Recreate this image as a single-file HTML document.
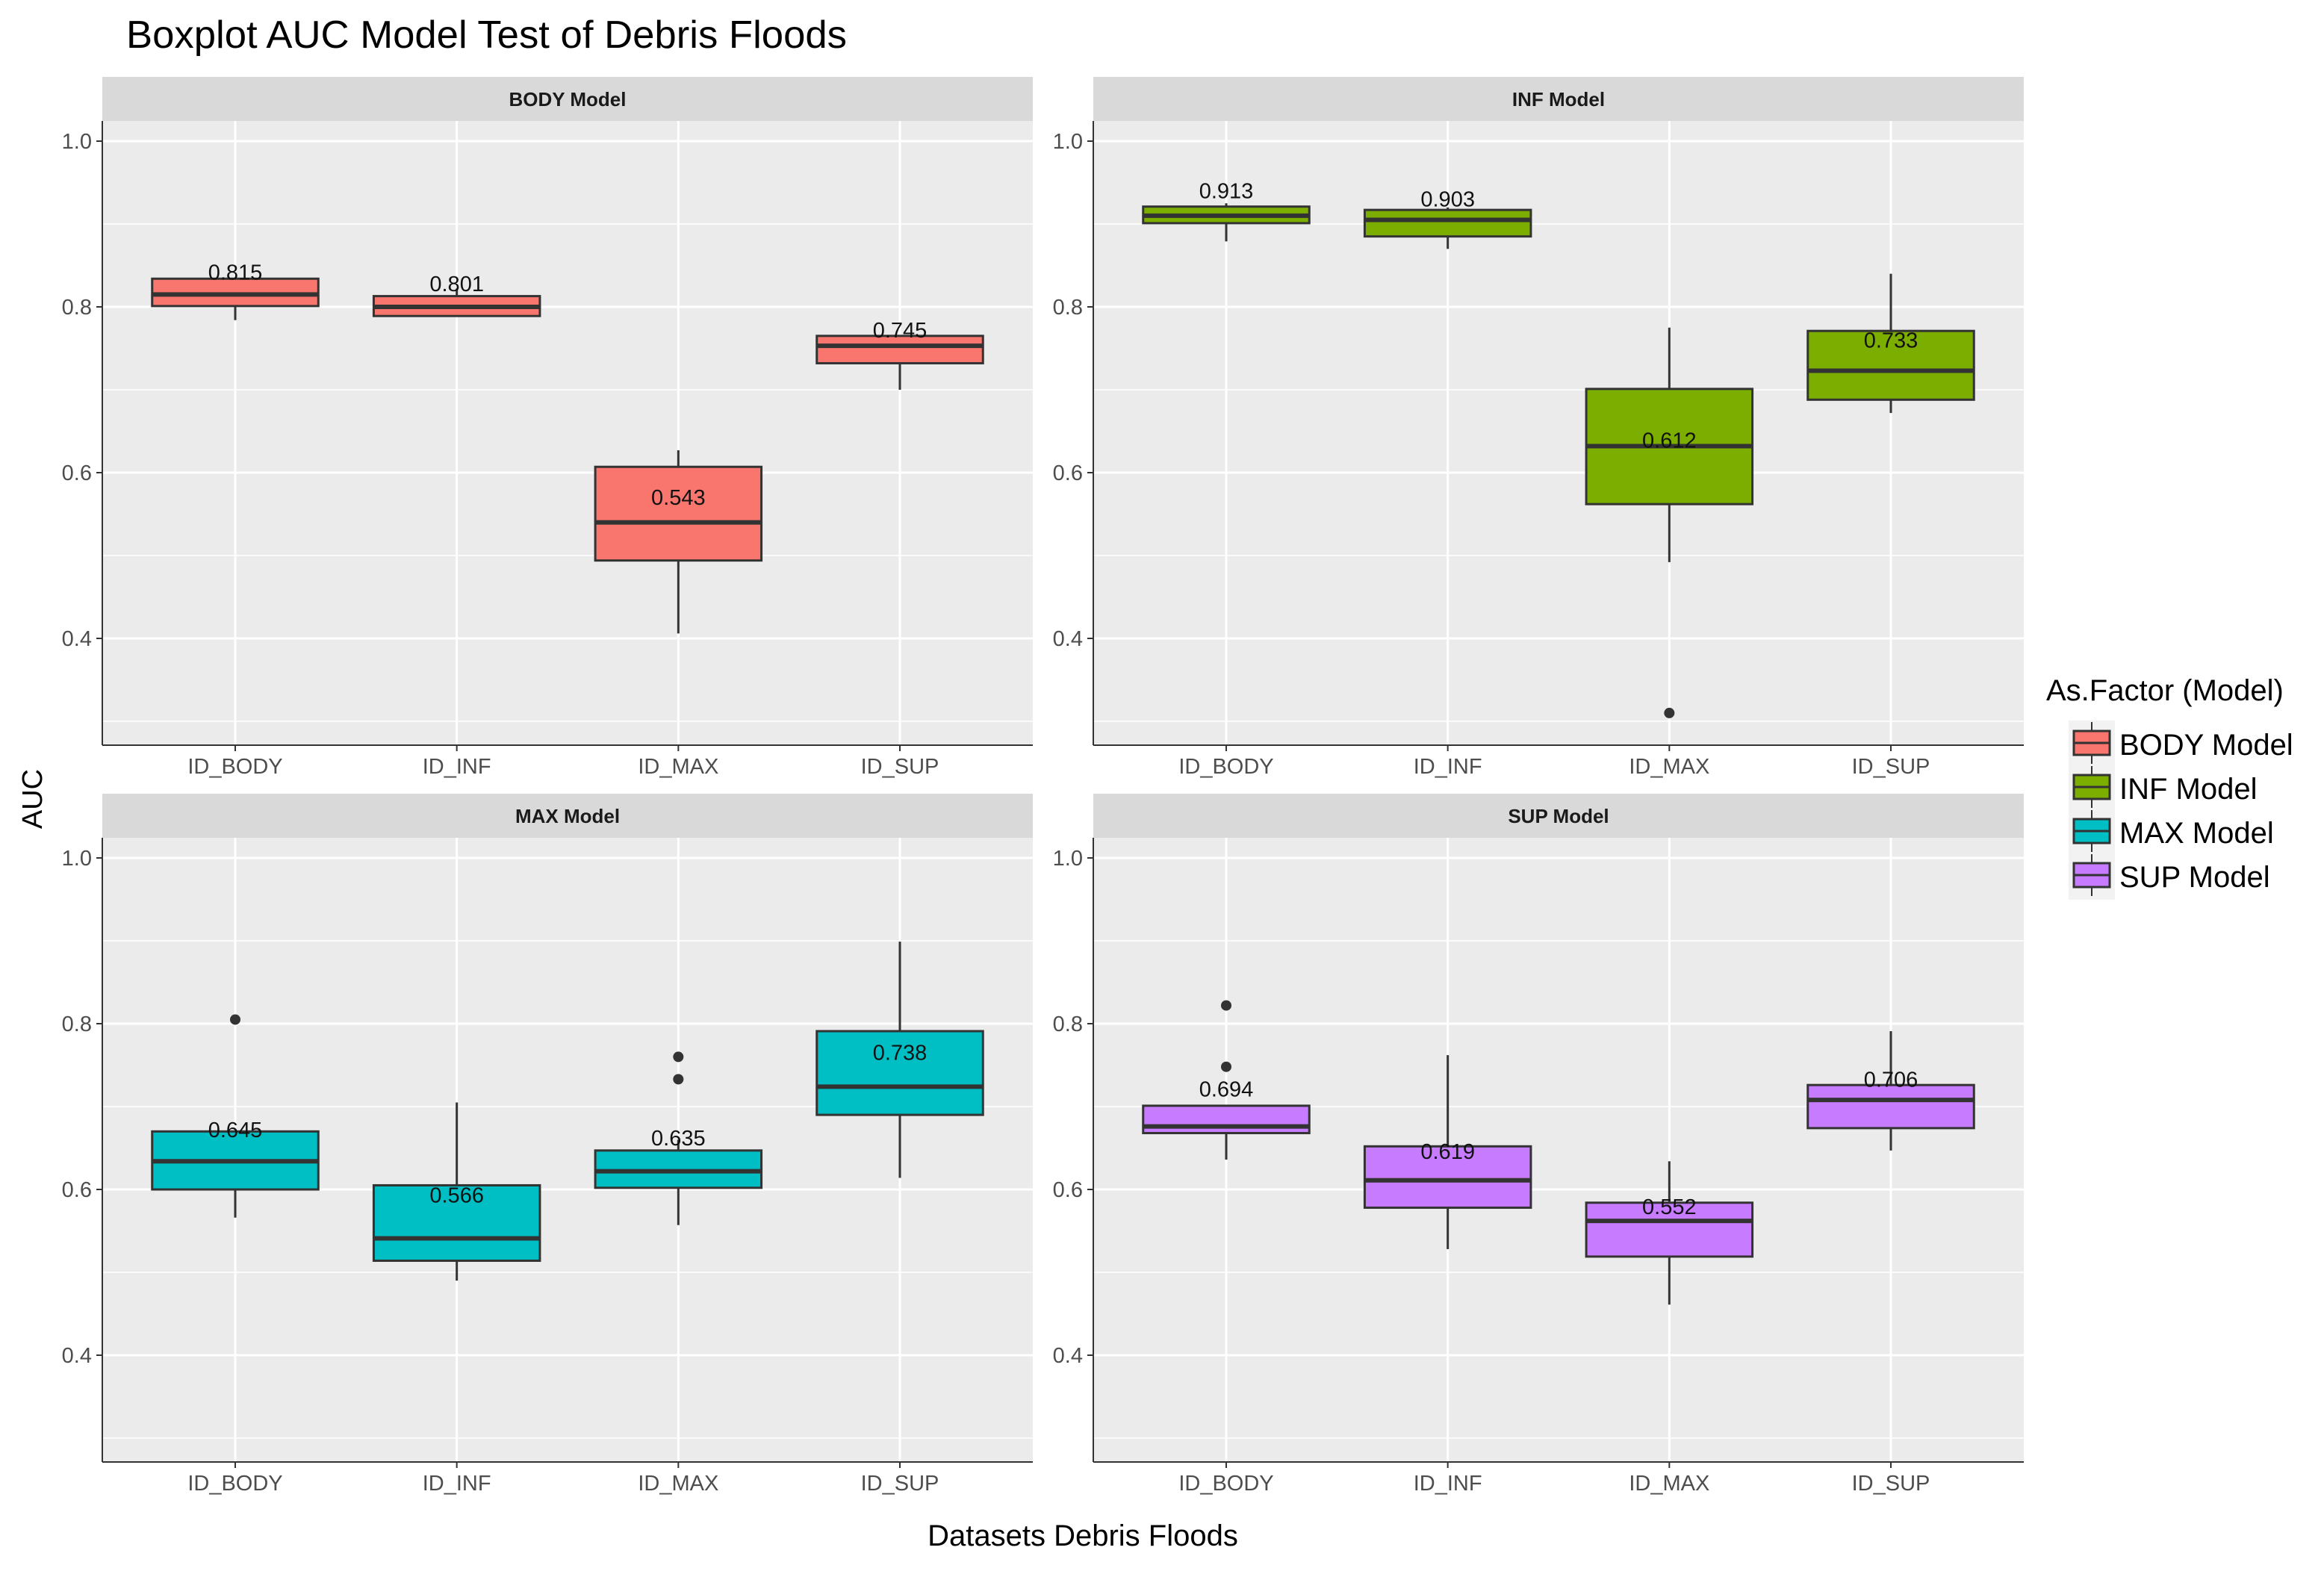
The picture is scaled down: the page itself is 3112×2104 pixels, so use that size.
<!DOCTYPE html>
<html><head><meta charset="utf-8"><style>
html,body{margin:0;padding:0;background:#fff;}
svg{display:block;font-family:"Liberation Sans",sans-serif;}
</style></head><body>
<svg id="chart" width="3112" height="2104" viewBox="0 0 3112 2104" xmlns="http://www.w3.org/2000/svg">
<text x="169" y="64" font-size="52" textLength="965" lengthAdjust="spacingAndGlyphs" fill="#000">Boxplot AUC Model Test of Debris Floods</text>
<text x="56" y="1070" font-size="38" fill="#000" text-anchor="middle" transform="rotate(-90 56 1070)">AUC</text>
<text x="1450" y="2070" font-size="40" fill="#000" text-anchor="middle">Datasets Debris Floods</text>
<g id="panels"></g>
<g id="legend"></g>
</svg>
<script>
const categories = ["ID_BODY","ID_INF","ID_MAX","ID_SUP"];
const models = ["BODY Model","INF Model","MAX Model","SUP Model"];
const colors = ["#F8766D","#7CAE00","#00BFC4","#C77CFF"];
const yTicks = [0.4,0.6,0.8,1.0];
const yMinor = [0.3,0.5,0.7,0.9];
// per model: [whiskerLow, q1, median, q3, whiskerHigh] per category
const bodyStats = [[0.784,0.801,0.815,0.834,0.834],[0.789,0.789,0.800,0.813,0.822],[0.406,0.494,0.540,0.607,0.627],[0.700,0.732,0.753,0.765,0.765]];
const infStats = [[0.879,0.901,0.910,0.921,0.925],[0.870,0.885,0.905,0.917,0.920],[0.492,0.562,0.632,0.701,0.775],[0.672,0.688,0.723,0.771,0.840]];
const maxStats = [[0.566,0.600,0.634,0.670,0.670],[0.490,0.514,0.541,0.605,0.705],[0.557,0.602,0.622,0.647,0.660],[0.614,0.690,0.724,0.791,0.899]];
const supStats = [[0.636,0.668,0.676,0.701,0.701],[0.528,0.578,0.611,0.652,0.762],[0.461,0.519,0.562,0.584,0.634],[0.647,0.674,0.708,0.726,0.791]];
const bodyOutliers = [[],[],[],[]];
const infOutliers = [[],[],[0.310],[]];
const maxOutliers = [[0.805],[],[0.760,0.733],[]];
const supOutliers = [[0.822,0.748],[],[],[]];
const bodyLabels = [0.815,0.801,0.543,0.745];
const infLabels = [0.913,0.903,0.612,0.733];
const maxLabels = [0.645,0.566,0.635,0.738];
const supLabels = [0.694,0.619,0.552,0.706];
const allStats=[bodyStats,infStats,maxStats,supStats];
const allOut=[bodyOutliers,infOutliers,maxOutliers,supOutliers];
const allLab=[bodyLabels,infLabels,maxLabels,supLabels];

const NS="http://www.w3.org/2000/svg";
function mk(tag,attrs,parent){const e=document.createElementNS(NS,tag);for(const k in attrs)e.setAttribute(k,attrs[k]);parent.appendChild(e);return e;}
const root=document.getElementById('panels');
const colX=[137,1464], rowY=[103,1063], PW=1246, SH=59, PH=836;
const STEP=PW/4.2;
models.forEach((m,mi)=>{
  const px=colX[mi%2], sy=rowY[Math.floor(mi/2)], py=sy+SH;
  const yS=v=>py+27+(1-v)*1110;
  const xS=i=>px+STEP*(0.6+i);
  const g=mk('g',{},root);
  
  
  const strip=mk('rect',{x:px,y:sy,width:PW,height:SH,fill:'#D9D9D9'},g);
  
  
  const st=mk('text',{x:px+PW/2,y:sy+39,'font-size':26,'font-weight':'bold','text-anchor':'middle',fill:'#1a1a1a'},g);
  st.textContent=m;
  
  
  const bg=mk('rect',{x:px,y:py,width:PW,height:PH,fill:'#EBEBEB'},g);
  
  
  yMinor.forEach(v=>{mk('line',{x1:px,x2:px+PW,y1:yS(v),y2:yS(v),stroke:'#fff','stroke-width':1.5},g);});
  yTicks.forEach(v=>{
    mk('line',{x1:px,x2:px+PW,y1:yS(v),y2:yS(v),stroke:'#fff','stroke-width':3},g);
    mk('line',{x1:px-8,x2:px,y1:yS(v),y2:yS(v),stroke:'#333','stroke-width':2},g);
    const t=mk('text',{x:px-14,y:yS(v)+10,'font-size':29,'text-anchor':'end',fill:'#4d4d4d'},g);
    t.textContent=v.toFixed(1);
    
    
  });
  categories.forEach((c,i)=>{
    mk('line',{x1:xS(i),x2:xS(i),y1:py,y2:py+PH,stroke:'#fff','stroke-width':3},g);
    mk('line',{x1:xS(i),x2:xS(i),y1:py+PH,y2:py+PH+8,stroke:'#333','stroke-width':2},g);
    const t=mk('text',{x:xS(i),y:py+PH+38,'font-size':29,'text-anchor':'middle',fill:'#4d4d4d'},g);
    t.textContent=c;
    
    
  });
  mk('line',{x1:px,x2:px,y1:py,y2:py+PH,stroke:'#333','stroke-width':2},g);
  mk('line',{x1:px,x2:px+PW,y1:py+PH,y2:py+PH,stroke:'#333','stroke-width':2},g);
  const stats=allStats[mi];
  stats.forEach((s,i)=>{
    const bx=xS(i), hw=STEP*0.375;
    const bg2=mk('g',{},g);
    
    
    mk('line',{x1:bx,x2:bx,y1:yS(s[4]),y2:yS(s[3]),stroke:'#333','stroke-width':3},bg2);
    mk('line',{x1:bx,x2:bx,y1:yS(s[1]),y2:yS(s[0]),stroke:'#333','stroke-width':3},bg2);
    mk('rect',{x:bx-hw,y:yS(s[3]),width:2*hw,height:yS(s[1])-yS(s[3]),fill:colors[mi],stroke:'#333','stroke-width':3},bg2);
    mk('line',{x1:bx-hw,x2:bx+hw,y1:yS(s[2]),y2:yS(s[2]),stroke:'#333','stroke-width':6},bg2);
    allOut[mi][i].forEach(o=>{
      const c=mk('circle',{cx:bx,cy:yS(o),r:7,fill:'#333'},bg2);
      
      
    });
    const lv=allLab[mi][i];
    const lt=mk('text',{x:bx,y:yS(lv+0.028)+11,'font-size':29,'text-anchor':'middle',fill:'#111'},bg2);
    lt.textContent=lv.toFixed(3);
    
    
  });
});
const lg=document.getElementById('legend');
const lt=mk('text',{x:2740,y:938,'font-size':40,fill:'#000'},lg);
lt.textContent='As.Factor (Model)';


mk('rect',{x:2770,y:965,width:62,height:240,fill:'#F2F2F2'},lg);
models.forEach((m,i)=>{
  const cy=995+i*59;
  const e=mk('g',{},lg);
  
  
  mk('line',{x1:2801,x2:2801,y1:cy-28,y2:cy+28,stroke:'#333','stroke-width':2},e);
  mk('rect',{x:2777,y:cy-16,width:48,height:32,fill:colors[i],stroke:'#333','stroke-width':3},e);
  mk('line',{x1:2777,x2:2825,y1:cy,y2:cy,stroke:'#333','stroke-width':3},e);
  const t=mk('text',{x:2838,y:cy+16,'font-size':40,fill:'#000'},e);
  t.textContent=m;
});
</script>
</body></html>
